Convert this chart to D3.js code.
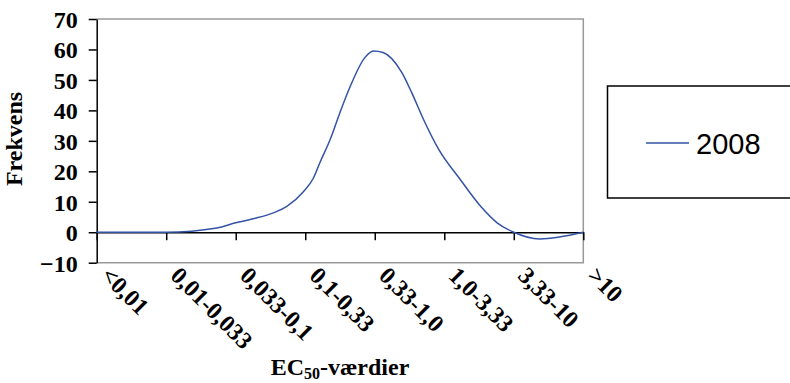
<html>
<head></head>
<body style="margin:0;background:white">
<svg id="svg" width="790" height="383"></svg>
<script src="https://cdn.jsdelivr.net/npm/d3@7"></script>
<script>

var categories = ["<0,01", "0,01-0,033", "0,033-0,1", "0,1-0,33", "0,33-1,0", "1,0-3,33", "3,33-10", ">10"];
// positions of the measured points, in category units (0 = first category)
var pos2008 = [0, 1, 1.73, 2, 2.25, 2.57, 2.73, 2.97, 3.12, 3.21, 3.36, 3.5, 3.64, 3.86, 3.98, 4.12, 4.39, 4.53, 4.7, 4.92, 5.23, 5.52, 5.76, 6, 6.37, 7];
var freq2008 = [0, 0, 1.4, 3.1, 4.4, 6.6, 8.4, 13.2, 17.9, 22.8, 30.5, 39.3, 47.5, 57.4, 59.5, 59, 52.4, 45.9, 37.1, 27.2, 17.3, 8.6, 3.1, 0, -2.2, 0];
var yTicks = [-10, 0, 10, 20, 30, 40, 50, 60, 70];

var svg = d3.select("#svg");
var pL = 96.7, pR = 583.3, pT = 19, pB = 262.7;

var x = d3.scaleLinear().domain([0, categories.length - 1]).range([pL, pR]);
var y = d3.scaleLinear().domain([-10, 70]).range([pB, pT]);

var serif = "'Liberation Serif', 'Times New Roman', serif";

// plot frame (grey top, right, bottom)
svg.append("path")
  .attr("d", "M" + pL + "," + pT + "H" + pR + "V" + pB + "H" + pL)
  .attr("fill", "none").attr("stroke", "#999").attr("stroke-width", 1.5);

// y axis
var yAxis = svg.append("g")
  .attr("transform", "translate(" + pL + ",0)")
  .call(d3.axisLeft(y).tickValues(yTicks).tickSize(8).tickSizeOuter(0).tickPadding(11));
yAxis.select(".domain").attr("stroke", "#000").attr("stroke-width", 1.5);
yAxis.selectAll(".tick line").attr("stroke", "#000").attr("stroke-width", 1.5);
yAxis.selectAll("text")
  .attr("font-family", serif).attr("font-weight", "bold").attr("font-size", 24)
  .attr("fill", "#000").attr("dy", "0.35em");

// x axis at zero
var xAxis = svg.append("g")
  .attr("transform", "translate(0," + y(0) + ")")
  .call(d3.axisBottom(x).tickValues(d3.range(categories.length)).tickSize(8).tickSizeOuter(0).tickFormat(""));
xAxis.select(".domain").attr("stroke", "#000").attr("stroke-width", 1.5);
xAxis.selectAll(".tick line").attr("stroke", "#000").attr("stroke-width", 1.5);

// rotated category labels
svg.append("g").selectAll("text").data(categories).join("text")
  .attr("transform", (d, i) => "translate(" + (x(i) + 3) + ",277) rotate(45)")
  .attr("font-family", serif).attr("font-weight", "bold").attr("font-size", 24)
  .text(d => d);

// line
var pts = pos2008.map((p, i) => [p, freq2008[i]]);
svg.append("path")
  .datum(pts)
  .attr("fill", "none").attr("stroke", "#3353a6").attr("stroke-width", 1.5)
  .attr("d", d3.line().x(d => x(d[0])).y(d => y(d[1])).curve(d3.curveMonotoneX));

// axis titles
svg.append("text")
  .attr("transform", "translate(22,139) rotate(-90)")
  .attr("text-anchor", "middle")
  .attr("font-family", serif).attr("font-weight", "bold").attr("font-size", 24)
  .text("Frekvens");

var xt = svg.append("text")
  .attr("x", 340).attr("y", 375)
  .attr("text-anchor", "middle")
  .attr("font-family", serif).attr("font-weight", "bold").attr("font-size", 24);
xt.append("tspan").text("EC");
xt.append("tspan").attr("font-size", 16).attr("dy", 4).text("50");
xt.append("tspan").attr("dy", -4).text("-værdier");

// legend
svg.append("rect")
  .attr("x", 607.5).attr("y", 86).attr("width", 200).attr("height", 112)
  .attr("fill", "white").attr("stroke", "#000").attr("stroke-width", 1.5);
svg.append("line")
  .attr("x1", 646).attr("x2", 689).attr("y1", 143).attr("y2", 143)
  .attr("stroke", "#3353a6").attr("stroke-width", 1.5);
svg.append("text")
  .attr("x", 696).attr("y", 153.5)
  .attr("font-family", "'Liberation Sans', Arial, sans-serif").attr("font-size", 29)
  .text("2008");

</script>
</body>
</html>
